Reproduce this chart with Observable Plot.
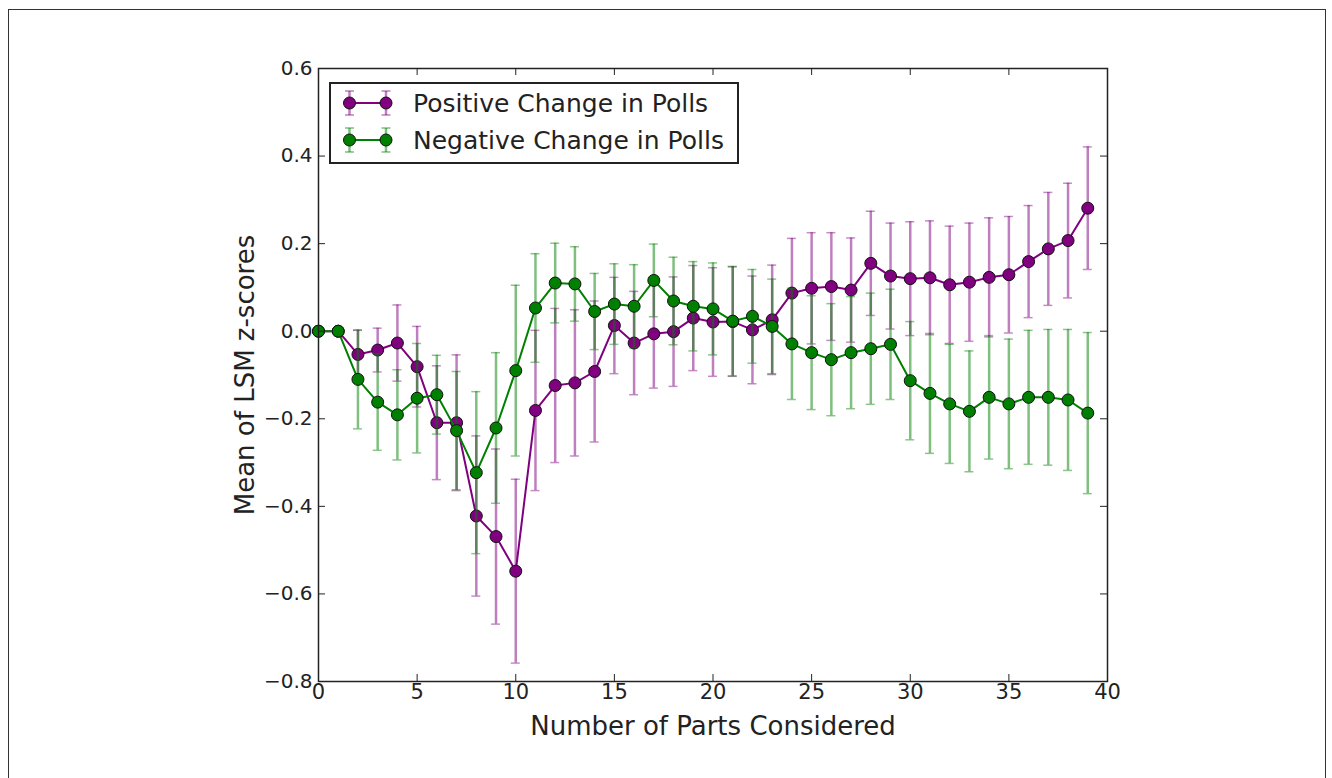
<!DOCTYPE html>
<html><head><meta charset="utf-8">
<script src="https://cdn.jsdelivr.net/npm/d3@7"></script>
<script src="https://cdn.jsdelivr.net/npm/@observablehq/plot@0.6"></script>
<style>
html,body{margin:0;padding:0;background:#fff;}
#wrap{position:relative;width:1332px;height:778px;overflow:hidden;font-family:"DejaVu Sans",sans-serif;}
#border{position:absolute;left:8px;top:9px;width:1318px;height:820px;border:1.5px solid #333;box-sizing:border-box;}
#chart{position:absolute;left:0;top:0;}
#legend{position:absolute;left:329px;top:82px;width:410px;height:82px;border:2px solid #222;background:#fff;box-sizing:border-box;}
#legend svg{position:absolute;left:0;top:0;}
</style></head>
<body>
<div id="wrap"><div id="border"></div><div id="chart"></div><div id="legend"></div></div>
<script>
// ---- data ----
const parts = [0,1,2,3,4,5,6,7,8,9,10,11,12,13,14,15,16,17,18,19,20,21,22,23,24,25,26,27,28,29,30,31,32,33,34,35,36,37,38,39];
const posMean = [0,0,-0.053,-0.043,-0.027,-0.081,-0.209,-0.209,-0.422,-0.469,-0.548,-0.181,-0.124,-0.118,-0.092,0.013,-0.027,-0.006,-0.001,0.03,0.021,0.022,0.003,0.026,0.087,0.098,0.102,0.094,0.155,0.126,0.12,0.122,0.106,0.112,0.123,0.129,0.159,0.188,0.207,0.281];
const posErr  = [0,0,0.055,0.05,0.087,0.092,0.13,0.155,0.183,0.2,0.21,0.183,0.176,0.167,0.161,0.11,0.118,0.124,0.125,0.12,0.124,0.125,0.123,0.125,0.125,0.127,0.123,0.119,0.119,0.121,0.13,0.13,0.134,0.135,0.136,0.133,0.128,0.129,0.131,0.14];
const negMean = [0,0,-0.11,-0.162,-0.191,-0.153,-0.145,-0.227,-0.323,-0.221,-0.09,0.053,0.11,0.108,0.045,0.062,0.057,0.116,0.069,0.057,0.051,0.023,0.034,0.011,-0.029,-0.049,-0.065,-0.049,-0.04,-0.03,-0.113,-0.142,-0.166,-0.183,-0.151,-0.166,-0.151,-0.151,-0.157,-0.187];
const negErr  = [0,0,0.113,0.11,0.103,0.125,0.09,0.135,0.185,0.172,0.195,0.124,0.091,0.085,0.087,0.092,0.095,0.083,0.1,0.102,0.105,0.125,0.107,0.108,0.127,0.13,0.128,0.128,0.127,0.126,0.135,0.137,0.136,0.138,0.141,0.148,0.153,0.155,0.161,0.184];
const seriesNames = ["Positive Change in Polls", "Negative Change in Polls"];
const seriesColors = ["#800080", "#008000"];
const xTicks = [0,5,10,15,20,25,30,35,40];
const yTicks = [-0.8,-0.6,-0.4,-0.2,0.0,0.2,0.4,0.6];
const xDomain = [0, 40];
const yDomain = [-0.8, 0.6];
const xLabel = "Number of Parts Considered";
const yLabel = "Mean of LSM z-scores";

// ---- build table ----
function rows(means, errs, s) {
  return parts.map((p, i) => ({x: p, y: means[i], lo: means[i] - errs[i], hi: means[i] + errs[i], err: errs[i], s}));
}
const pos = rows(posMean, posErr, 0);
const neg = rows(negMean, negErr, 1);

function seriesMarks(data, color) {
  const withErr = data.filter(d => d.err > 0);
  return [
    Plot.ruleX(withErr, {x: "x", y1: "lo", y2: "hi", stroke: color, strokeOpacity: 0.5, strokeWidth: 2.5}),
    Plot.ruleY(withErr, {y: "lo", x1: "x", x2: "x", insetLeft: -4.5, insetRight: -4.5, stroke: color, strokeOpacity: 0.45, strokeWidth: 1.5}),
    Plot.ruleY(withErr, {y: "hi", x1: "x", x2: "x", insetLeft: -4.5, insetRight: -4.5, stroke: color, strokeOpacity: 0.45, strokeWidth: 1.5}),
    Plot.line(data, {x: "x", y: "y", stroke: color, strokeWidth: 2}),
    Plot.dot(data, {x: "x", y: "y", r: 6, fill: color, stroke: "#111", strokeWidth: 1})
  ];
}

const fmtY = d => (d < 0 ? "\u2212" : "") + Math.abs(d).toFixed(1);

const chart = Plot.plot({
  width: 1332, height: 778,
  marginLeft: 318, marginRight: 225, marginTop: 68, marginBottom: 97,
  x: {domain: xDomain},
  y: {domain: yDomain},
  style: {fontFamily: "DejaVu Sans, sans-serif", color: "#222", background: "transparent", overflow: "visible"},
  marks: [
    ...seriesMarks(pos, seriesColors[0]),
    ...seriesMarks(neg, seriesColors[1]),
    Plot.frame({stroke: "#222", strokeWidth: 1.5}),
    // inward ticks
    Plot.ruleX(xTicks, {x: d => d, y1: yDomain[0], y2: yDomain[0], insetTop: 0, insetBottom: 7, stroke: "#222"}),
    Plot.ruleX(xTicks, {x: d => d, y1: yDomain[1], y2: yDomain[1], insetTop: 0, insetBottom: -7, stroke: "#222"}),
    Plot.ruleY(yTicks, {y: d => d, x1: xDomain[0], x2: xDomain[0], insetLeft: 0, insetRight: -7, stroke: "#222"}),
    Plot.ruleY(yTicks, {y: d => d, x1: xDomain[1], x2: xDomain[1], insetLeft: 0, insetRight: 7, stroke: "#222"}),
    Plot.axisX(xTicks, {tickSize: 0, tickPadding: 3, fontSize: 21, tickFormat: d => String(d), label: null}),
    Plot.axisY(yTicks, {tickSize: 0, tickPadding: 6, fontSize: 20, tickFormat: fmtY, label: null}),
    Plot.text([xLabel], {frameAnchor: "bottom", dy: 45, lineAnchor: "middle", textAnchor: "middle", text: d => d, fontSize: 26, fill: "#222"}),
    Plot.text([yLabel], {frameAnchor: "left", dx: -73, rotate: -90, lineAnchor: "middle", textAnchor: "middle", text: d => d, fontSize: 26, fill: "#222"})
  ]
});
document.getElementById("chart").appendChild(chart);

// ---- legend ----
const lg = d3.select("#legend").append("svg").attr("width", 410).attr("height", 82);
const rowY = [19, 56];
seriesNames.forEach((name, i) => {
  const g = lg.append("g").attr("transform", `translate(0,${rowY[i]})`);
  const c = seriesColors[i];
  [18.5, 55].forEach(px => {
    g.append("line").attr("x1", px).attr("x2", px).attr("y1", -12).attr("y2", 12).attr("stroke", c).attr("stroke-opacity", 0.5).attr("stroke-width", 2.5);
    g.append("line").attr("x1", px - 4.5).attr("x2", px + 4.5).attr("y1", -12).attr("y2", -12).attr("stroke", c).attr("stroke-opacity", 0.5).attr("stroke-width", 1.5);
    g.append("line").attr("x1", px - 4.5).attr("x2", px + 4.5).attr("y1", 12).attr("y2", 12).attr("stroke", c).attr("stroke-opacity", 0.5).attr("stroke-width", 1.5);
  });
  g.append("line").attr("x1", 18.5).attr("x2", 55).attr("y1", 0).attr("y2", 0).attr("stroke", c).attr("stroke-width", 2);
  [18.5, 55].forEach(px => g.append("circle").attr("cx", px).attr("cy", 0).attr("r", 6).attr("fill", c).attr("stroke", "#111"));
  g.append("text").attr("x", 82).attr("y", 0).attr("dy", "0.36em").attr("font-size", 25).attr("fill", "#222").attr("font-family", "DejaVu Sans, sans-serif").text(name);
});
</script>
</body></html>
